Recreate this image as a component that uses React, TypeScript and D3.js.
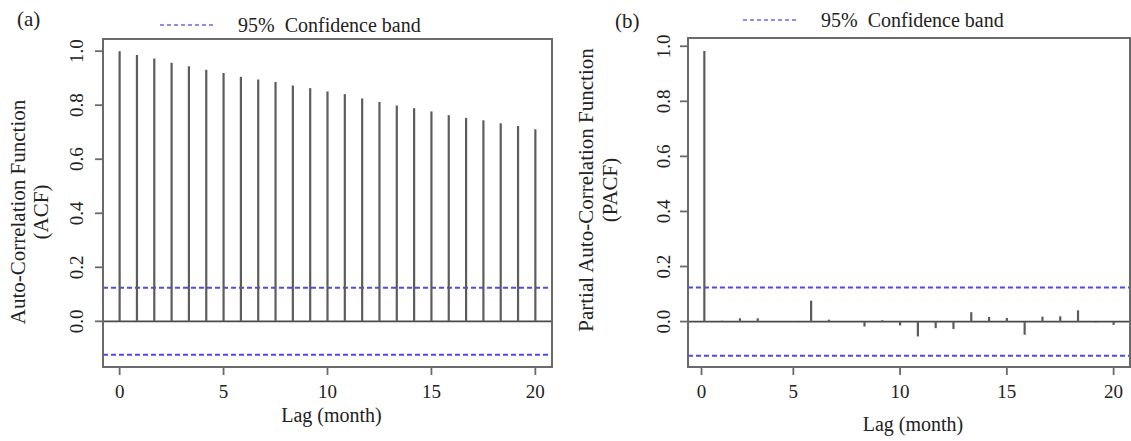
import React from 'react';
import * as d3 from 'd3';

// lags in months (frequency 1.2 -> step of 20/24)
const acfLags = [0, 0.833, 1.667, 2.5, 3.333, 4.167, 5, 5.833, 6.667, 7.5, 8.333, 9.167, 10,
  10.833, 11.667, 12.5, 13.333, 14.167, 15, 15.833, 16.667, 17.5, 18.333, 19.167, 20];
const acfValues = [1.0, 0.986, 0.973, 0.957, 0.944, 0.931, 0.919, 0.905, 0.895, 0.886, 0.873,
  0.863, 0.851, 0.841, 0.825, 0.812, 0.799, 0.789, 0.777, 0.763, 0.753, 0.744, 0.733, 0.723, 0.711];

const pacfLags = [0.833, 1.667, 2.5, 3.333, 4.167, 5, 5.833, 6.667, 7.5, 8.333, 9.167, 10,
  10.833, 11.667, 12.5, 13.333, 14.167, 15, 15.833, 16.667, 17.5, 18.333, 19.167, 20];
const pacfValues = [0.983, 0.003, 0.012, 0.012, 0.0, 0.002, 0.076, 0.007, 0.0, -0.018, 0.005,
  -0.014, -0.054, -0.024, -0.027, 0.034, 0.017, 0.013, -0.048, 0.018, 0.019, 0.041, -0.003, -0.012];

const acfBand = 0.124;
const pacfBand = 0.124;

const yTicks = [0, 0.2, 0.4, 0.6, 0.8, 1.0];
const acfXTicks = [0, 5, 10, 15, 20];
// the "0" label in (b) sits just inside the frame
const pacfXTicks = [0.7, 5, 10, 15, 20];
const xTickLabels = ['0', '5', '10', '15', '20'];

const FONT = "'Liberation Serif', 'DejaVu Serif', serif";
const BAR = '#5c5c5c';
const FRAME = '#6a6a6a';
const BAND = '#4b4bf0';

type PanelProps = {
  tag: string;
  tagX: number;
  tagY: number;
  lags: number[];
  values: number[];
  band: number;
  xTicks: number[];
  xDomain: [number, number];
  yDomain: [number, number];
  left: number;
  right: number;
  top: number;
  bottom: number;
  yLabelX: number;
  titleLines: string[];
  titleX: number[];
  titleY: number;
  xTitleY: number;
  legendX: number;
  legendY: number;
};

function Panel(p: PanelProps) {
  const x = d3.scaleLinear().domain(p.xDomain).range([p.left, p.right]);
  const y = d3.scaleLinear().domain(p.yDomain).range([p.bottom, p.top]);
  const cx = (p.left + p.right) / 2;

  return (
    <g>
      <text x={p.tagX} y={p.tagY} fontSize={21}>{p.tag}</text>

      {/* legend */}
      <line x1={p.legendX} x2={p.legendX + 55} y1={p.legendY - 7} y2={p.legendY - 7}
        stroke="#8c8cf5" strokeWidth={2} strokeDasharray="4,3" />
      <text x={p.legendX + 78} y={p.legendY} fontSize={20}
        style={{ whiteSpace: 'pre' }}>{'95%  Confidence band'}</text>

      {/* confidence band */}
      {[p.band, -p.band].map((b, i) => (
        <line key={i} x1={p.left} x2={p.right} y1={y(b)} y2={y(b)}
          stroke={BAND} strokeWidth={2} strokeDasharray="5,3" />
      ))}

      {/* zero line */}
      <line x1={p.left} x2={p.right} y1={y(0)} y2={y(0)} stroke="#4a4a4a" strokeWidth={1.8} />

      {/* bars */}
      {p.values.map((v, i) => (
        <line key={i} x1={x(p.lags[i])} x2={x(p.lags[i])} y1={y(0)} y2={y(v)}
          stroke={BAR} strokeWidth={2.2} />
      ))}

      {/* frame */}
      <rect x={p.left} y={p.top} width={p.right - p.left} height={p.bottom - p.top}
        fill="none" stroke={FRAME} strokeWidth={2} />

      {/* y axis */}
      {yTicks.map((t) => (
        <g key={t}>
          <line x1={p.left - 8} x2={p.left} y1={y(t)} y2={y(t)} stroke={FRAME} strokeWidth={1.8} />
          <text transform={`translate(${p.yLabelX},${y(t)}) rotate(-90)`} textAnchor="middle"
            fontSize={19}>{t.toFixed(1)}</text>
        </g>
      ))}

      {/* x axis */}
      {p.xTicks.map((t, i) => (
        <g key={t}>
          <line x1={x(t)} x2={x(t)} y1={p.bottom} y2={p.bottom + 8} stroke={FRAME} strokeWidth={1.8} />
          <text x={x(t)} y={p.bottom + 31} textAnchor="middle" fontSize={19}>{xTickLabels[i]}</text>
        </g>
      ))}

      <text x={cx + 4} y={p.xTitleY} textAnchor="middle" fontSize={20}>Lag (month)</text>

      {p.titleLines.map((s, i) => (
        <text key={i} transform={`translate(${p.titleX[i]},${p.titleY}) rotate(-90)`} textAnchor="middle"
          fontSize={21}>{s}</text>
      ))}
    </g>
  );
}

export default function App() {
  return (
    <svg width={1131} height={441}
      style={{ position: 'absolute', left: 0, top: 0, background: '#fff', fontFamily: FONT, fill: '#222' }}>
      <Panel
        tag="(a)" tagX={17} tagY={26}
        lags={acfLags} values={acfValues} band={acfBand}
        xTicks={acfXTicks} xDomain={[-0.8, 20.8]} yDomain={[-0.169, 1.045]}
        left={103} right={552} top={39} bottom={367}
        yLabelX={83}
        titleLines={['Auto-Correlation Function', '(ACF)']} titleX={[25, 48]} titleY={212}
        xTitleY={422}
        legendX={160} legendY={32}
      />
      <Panel
        tag="(b)" tagX={615} tagY={28}
        lags={pacfLags} values={pacfValues} band={pacfBand}
        xTicks={pacfXTicks} xDomain={[0.067, 20.767]} yDomain={[-0.165, 1.03]}
        left={688} right={1130} top={38} bottom={367}
        yLabelX={670}
        titleLines={['Partial Auto-Correlation Function', '(PACF)']} titleX={[593, 617]} titleY={190}
        xTitleY={431}
        legendX={743} legendY={27}
      />
    </svg>
  );
}
